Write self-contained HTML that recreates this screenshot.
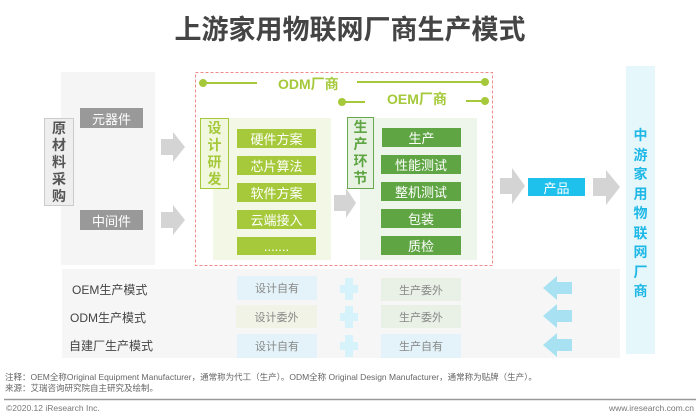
<!DOCTYPE html><html><head><meta charset="utf-8"><style>
*{margin:0;padding:0;box-sizing:border-box}
body{width:700px;height:419px;background:#fff;position:relative;overflow:hidden;font-family:"Liberation Sans","Noto Sans CJK SC",sans-serif}
.a{position:absolute}
.c{display:flex;align-items:center;justify-content:center;color:#fff;font-size:13px}
.g1{background:#a5c93a}.g2{background:#5fa543}
.v{flex-direction:column;line-height:17px;font-weight:bold}
.r{font-size:11px;color:#888}
</style></head><body>
<div class="a" style="left:0;top:8px;width:700px;text-align:center;font-size:27px;font-weight:bold;color:#444">上游家用物联网厂商生产模式</div>
<div class="a" style="left:61px;top:72px;width:94px;height:193px;background:#f5f5f5"></div>
<div class="a c v" style="left:44px;top:118px;width:30px;height:88px;background:#eee;border:1px solid #ccc;color:#555;font-size:14px"><span>原</span><span>材</span><span>料</span><span>采</span><span>购</span></div>
<div class="a c" style="left:80px;top:108px;width:63px;height:20px;background:#999">元器件</div>
<div class="a c" style="left:80px;top:210px;width:63px;height:20px;background:#999">中间件</div>
<div class="a" style="left:62px;top:269px;width:558px;height:89px;background:#f6f6f6"></div>
<svg class="a" style="left:0;top:0;z-index:2" width="700" height="419">
<g fill="#d4d4d4">
<polygon points="161,139 173,139 173,132 185,147 173,162 173,155 161,155"/>
<polygon points="161,212 173,212 173,205 185,220 173,235 173,228 161,228"/>
<polygon points="334,195 346,195 346,188 356,203 346,218 346,211 334,211"/>
<polygon points="500,178 512,178 512,168 525,186 512,204 512,194 500,194"/>
<polygon points="593,178 606,178 606,170 620,187 606,205 606,196 593,196"/>
</g>
<rect x="195.5" y="72.5" width="297" height="193" fill="none" stroke="#f08a8a" stroke-dasharray="3,2"/>
<g stroke="#a5c93a" stroke-width="2" fill="#a5c93a">
<line x1="203" y1="83" x2="257" y2="83"/><circle cx="203" cy="83" r="3"/>
<line x1="357" y1="82" x2="485" y2="82"/><circle cx="485" cy="82" r="3"/>
<line x1="342" y1="102" x2="365" y2="102"/><circle cx="342" cy="102" r="3"/>
<line x1="466" y1="101" x2="485" y2="101"/><circle cx="485" cy="101" r="3"/>
</g>
<g fill="#a8e2f2">
<polygon points="572,282 557,282 557,276 543,288 557,300 557,294 572,294"/>
<polygon points="572,310 557,310 557,304 543,316 557,328 557,322 572,322"/>
<polygon points="572,339 557,339 557,333 543,345 557,357 557,351 572,351"/>
</g>
<g fill="#d6f3fb">
<rect x="345" y="278" width="8" height="22"/><rect x="340" y="285" width="18" height="8"/>
<rect x="345" y="306" width="8" height="22"/><rect x="340" y="313" width="18" height="8"/>
<rect x="345" y="335" width="8" height="22"/><rect x="340" y="342" width="18" height="8"/>
</g>
<line x1="4" y1="399.5" x2="696" y2="399.5" stroke="#999" stroke-width="1.5"/>
</svg>
<div class="a" style="left:278px;top:74px;font-size:14px;font-weight:bold;color:#a5c93a">ODM厂商</div>
<div class="a" style="left:387px;top:89px;font-size:14px;font-weight:bold;color:#a5c93a">OEM厂商</div>
<div class="a" style="left:213px;top:118px;width:118px;height:142px;background:#f3f8e6"></div>
<div class="a c v" style="left:200px;top:118px;width:29px;height:71px;background:#f0f7dc;border:1px solid #a5c93a;color:#a5c93a;font-size:14px"><span>设</span><span>计</span><span>研</span><span>发</span></div>
<div class="a c g1" style="left:237px;top:129px;width:79px;height:19px">硬件方案</div>
<div class="a c g1" style="left:237px;top:156px;width:79px;height:19px">芯片算法</div>
<div class="a c g1" style="left:237px;top:183px;width:79px;height:19px">软件方案</div>
<div class="a c g1" style="left:237px;top:210px;width:79px;height:19px">云端接入</div>
<div class="a c g1" style="left:237px;top:237px;width:79px;height:18px">.......</div>
<div class="a" style="left:360px;top:118px;width:117px;height:142px;background:#eef5ea"></div>
<div class="a c v" style="left:347px;top:117px;width:27px;height:72px;background:#e8f2e2;border:1px solid #6aa84f;color:#5fa543;font-size:14px"><span>生</span><span>产</span><span>环</span><span>节</span></div>
<div class="a c g2" style="left:382px;top:128px;width:79px;height:19px">生产</div>
<div class="a c g2" style="left:381px;top:155px;width:80px;height:19px">性能测试</div>
<div class="a c g2" style="left:381px;top:182px;width:80px;height:19px">整机测试</div>
<div class="a c g2" style="left:381px;top:209px;width:80px;height:19px">包装</div>
<div class="a c g2" style="left:381px;top:236px;width:80px;height:19px">质检</div>
<div class="a c" style="left:528px;top:178px;width:57px;height:18px;background:#1ec0ec">产品</div>
<div class="a c v" style="left:626px;top:66px;width:29px;height:288px;background:#e6f7fc;color:#1eb8e6;font-size:14px;line-height:19.5px;padding-top:8px"><span>中</span><span>游</span><span>家</span><span>用</span><span>物</span><span>联</span><span>网</span><span>厂</span><span>商</span></div>
<div class="a" style="left:72px;top:281px;font-size:12px;color:#444">OEM生产模式</div>
<div class="a" style="left:70px;top:309px;font-size:12px;color:#444">ODM生产模式</div>
<div class="a" style="left:69px;top:337px;font-size:12px;color:#444">自建厂生产模式</div>
<div class="a c r" style="left:237px;top:276px;width:80px;height:24px;background:#e3f3f9">设计自有</div>
<div class="a c r" style="left:236px;top:305px;width:81px;height:23px;background:#f0f3e6">设计委外</div>
<div class="a c r" style="left:237px;top:334px;width:80px;height:24px;background:#e3f3f9">设计自有</div>
<div class="a c r" style="left:381px;top:278px;width:80px;height:23px;background:#e9f1e6">生产委外</div>
<div class="a c r" style="left:381px;top:305px;width:80px;height:23px;background:#e9f1e6">生产委外</div>
<div class="a c r" style="left:381px;top:334px;width:80px;height:24px;background:#e3f3f9">生产自有</div>
<div class="a" style="left:5px;top:372px;font-size:8.5px;color:#666;line-height:11px;white-space:nowrap">注释：OEM全称Original Equipment Manufacturer，通常称为代工（生产）。ODM全称 Original Design Manufacturer，通常称为贴牌（生产）。<br>来源：艾瑞咨询研究院自主研究及绘制。</div>
<div class="a" style="left:6px;top:403px;font-size:8.5px;color:#777">©2020.12 iResearch Inc.</div>
<div class="a" style="right:6px;top:403px;font-size:8.5px;color:#777">www.iresearch.com.cn</div>
</body></html>
